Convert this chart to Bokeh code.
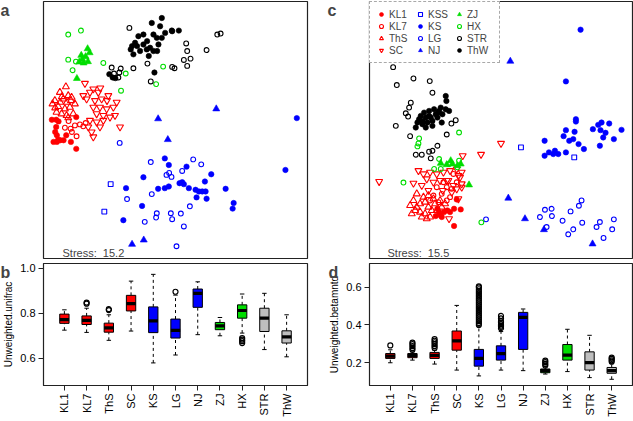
import math
import numpy as np
from bokeh.plotting import figure
from bokeh.models import (Range1d, Label, Legend, LegendItem, FixedTicker,
                          PrintfTickFormatter, GridBox)
from bokeh.embed import file_html
from bokeh.resources import INLINE

FONT = "Liberation Sans"
RED, BLUE, GREEN, BLACK, GRAY = "#ff0000", "#0000ff", "#00dd00", "#000000", "#bebebe"

# ---------------- NMDS groups ----------------
groups = ["KL1", "KL7", "ThS", "SC", "KSS", "KS", "LG", "NJ", "ZJ", "HX", "STR", "ThW"]
g_color = {"KL1": RED, "KL7": RED, "ThS": RED, "SC": RED, "KSS": BLUE, "KS": BLUE,
           "LG": BLUE, "NJ": BLUE, "ZJ": GREEN, "HX": GREEN, "STR": BLACK, "ThW": BLACK}
g_marker = {"KL1": "circle", "KL7": "circle", "ThS": "triangle", "SC": "inverted_triangle",
            "KSS": "square", "KS": "circle", "LG": "circle", "NJ": "triangle",
            "ZJ": "triangle", "HX": "circle", "STR": "circle", "ThW": "circle"}
g_filled = {"KL1": True, "KL7": False, "ThS": False, "SC": False, "KSS": False, "KS": True,
            "LG": False, "NJ": True, "ZJ": True, "HX": False, "STR": False, "ThW": True}

# Panel a: unweighted UniFrac NMDS scores (NMDS1, NMDS2, arbitrary units)
a_KL1 = [(155,358),(168,358),(175,363),(168,380),(165,395),(170,405),(174,418),(160,425),
         (170,425),(190,420),(198,405),(212,425),(228,350),(228,446),(180,420)]
a_KL7 = [(194,382),(211,385),(224,375),(239,372),(229,408),(249,378),(205,362),(256,368),(215,395)]
a_ThS = [(197,258),(179,275),(204,285),(189,295),(214,290),(164,300),(157,310),(174,318),
         (194,325),(209,320),(224,310),(169,335),(184,340),(199,345),(219,340),(204,352),
         (185,288),(200,305),(165,322),(212,300),(180,305)]
a_SC = [(254,248),(279,265),(294,275),(269,275),(249,285),(324,285),(304,295),(259,295),
        (284,300),(349,305),(279,320),(299,320),(319,325),(339,320),(289,340),(309,345),
        (329,350),(344,345),(269,360),(289,365),(309,360),(359,380),(274,395),(279,410),
        (264,380),(299,380),(300,262),(320,300)]
a_KSS = [(331,553),(312,636)]
a_KS = [(888,353),(854,510),(493,475),(505,495),(558,500),(632,523),(429,532),(377,565),
        (473,567),(493,565),(505,560),(537,550),(545,547),(550,553),(565,565),(585,570),
        (595,575),(605,575),(615,575),(613,545),(588,593),(618,597),(675,567),(699,610),
        (696,627),(425,619),(369,662)]
a_LG = [(358,428),(451,486),(578,478),(602,493),(498,525),(513,531),(506,519),(545,513),
        (454,583),(380,598),(568,620),(469,641),(467,654),(511,641),(515,659),(541,642),
        (433,667),(550,681),(528,741)]
a_NJ = [(647,325),(473,355),(502,418),(395,735),(430,722)]
a_ZJ = [(262,143),(268,155),(243,163),(256,167),(237,183),(250,186),(263,182),(246,175),(230,233)]
a_HX = [(204,100),(242,88),(204,176),(227,182),(217,208),(309,186),(376,218),(362,270),
        (488,197),(467,250)]
a_STR = [(387,80),(441,188),(399,202),(451,242),(557,127),(560,150),(618,147),(550,177),
         (570,173),(560,195),(515,198),(522,202),(650,100),(660,97),(334,200),(361,203),
         (357,215),(354,230),(341,218)]
a_ThW = [(454,65),(484,50),(479,75),(514,88),(459,100),(469,110),(429,100),(414,105),
         (404,125),(391,145),(399,160),(419,150),(439,145),(449,140),(429,130),(474,130),
         (484,110),(494,95),(459,150),(515,90),(535,88),(327,220),(337,230),(345,232),
         (462,215),(440,120),(410,135),(445,165),(470,150),(395,135)]

# Panel c: betaMNTD NMDS scores
c_KL1 = [(440,597),(452,627),(432,625),(387,635),(392,645),(377,647),(402,635),(412,630),
         (432,677),(382,625),(395,650),(420,635)]
c_KL7 = [(400,545),(410,560),(430,520),(380,560),(395,580),(420,590),(370,585),(410,600),
         (385,605),(440,545),(360,600),(425,565)]
c_ThS = [(310,600),(320,620),(330,610),(345,605),(355,620),(345,640),(330,635),(315,630),
         (360,650),(375,610),(390,600),(405,610),(340,590),(320,580),(355,585),(300,615),
         (335,650),(350,655),(365,630),(380,630),(305,640),(395,620),(370,595)]
c_SC = [(207,543),(310,548),(458,465),(513,461),(573,428),(325,510),(340,520),(360,515),
        (380,520),(400,515),(420,510),(440,505),(455,515),(450,530),(455,550),(430,555),
        (410,540),(390,540),(370,545),(350,535),(335,555),(355,570),(425,575),(440,565),
        (455,560),(445,595),(415,540),(398,570),(445,525),(417,655)]
c_KSS = [(633,440),(793,470)]
c_KS = [(812,85),(768,241),(798,355),(798,362),(768,388),(794,393),(761,406),(778,420),
        (790,415),(806,430),(822,445),(849,385),(865,372),(875,365),(898,368),(872,388),
        (887,396),(880,410),(935,387),(912,415),(870,435),(704,420),(704,465),(717,455),
        (730,460),(735,450),(745,460),(768,455)]
c_LG = [(528,657),(705,628),(725,625),(690,650),(726,647),(710,680),(758,661),(782,633),
        (807,616),(815,600),(817,667),(790,687),(775,702),(860,680),(870,665),(912,657),
        (907,687),(881,713)]
c_NJ = [(601,180),(595,593),(645,655),(702,688),(848,731)]
c_ZJ = [(392,488),(422,480),(427,490),(442,495),(452,490),(477,553),(410,492)]
c_HX = [(514,666),(447,395),(327,413),(325,428),(322,437),(387,475),(372,505),(392,505),
        (417,490),(447,480),(442,500),(280,546)]
c_STR = [(249,198),(260,252),(310,232),(359,240),(367,275),(302,305),(297,320),(287,337),
         (294,347),(257,375),(437,358),(424,368),(410,401),(300,406),(317,462),(335,462),
         (357,453),(367,450),(382,435),(362,473)]
c_ThW = [(407,285),(409,300),(392,320),(407,325),(387,330),(372,325),(357,330),(342,335),
         (332,345),(327,355),(322,365),(317,380),(337,370),(352,365),(367,360),(382,350),
         (397,340),(417,330),(395,365),(367,375),(347,380),(362,350),(377,340),(347,350),
         (337,360),(357,345),(385,335)]

a_points = [a_KL1, a_KL7, a_ThS, a_SC, a_KSS, a_KS, a_LG, a_NJ, a_ZJ, a_HX, a_STR, a_ThW]
c_points = [c_KL1, c_KL7, c_ThS, c_SC, c_KSS, c_KS, c_LG, c_NJ, c_ZJ, c_HX, c_STR, c_ThW]

# ---------------- Box plot summaries ----------------
cats = ["KL1", "KL7", "ThS", "SC", "KS", "LG", "NJ", "ZJ", "HX", "STR", "ThW"]
box_colors = [RED, RED, RED, RED, BLUE, BLUE, BLUE, GREEN, GREEN, GRAY, GRAY]

b_lo  = [0.725, 0.715, 0.680, 0.721, 0.580, 0.615, 0.705, 0.700, 0.712, 0.639, 0.607]
b_q1  = [0.755, 0.750, 0.716, 0.810, 0.714, 0.690, 0.826, 0.727, 0.778, 0.719, 0.668]
b_med = [0.772, 0.768, 0.735, 0.842, 0.766, 0.724, 0.888, 0.744, 0.812, 0.778, 0.695]
b_q3  = [0.796, 0.788, 0.756, 0.879, 0.828, 0.774, 0.907, 0.759, 0.837, 0.822, 0.722]
b_hi  = [0.815, 0.822, 0.793, 0.942, 0.972, 0.880, 0.939, 0.781, 0.885, 0.888, 0.793]
b_out = {"KL7": [0.847, 0.842], "ThS": [0.818, 0.814], "LG": [0.895],
         "HX": [0.690, 0.683, 0.676, 0.668]}

d_lo  = [0.199, 0.213, 0.192, 0.160, 0.129, 0.160, 0.157, 0.139, 0.152, 0.120, 0.111]
d_q1  = [0.222, 0.226, 0.222, 0.266, 0.181, 0.213, 0.270, 0.146, 0.213, 0.160, 0.143]
d_med = [0.234, 0.238, 0.238, 0.315, 0.222, 0.248, 0.440, 0.157, 0.240, 0.200, 0.157]
d_q3  = [0.248, 0.248, 0.254, 0.368, 0.270, 0.289, 0.467, 0.166, 0.296, 0.257, 0.174]
d_hi  = [0.268, 0.257, 0.266, 0.504, 0.393, 0.365, 0.485, 0.180, 0.377, 0.345, 0.196]
d_out = {"KL1": [0.291],
         "KL7": [0.268, 0.278, 0.288, 0.298, 0.306],
         "ThS": [0.278, 0.288, 0.298, 0.308, 0.316, 0.325],
         "KS": [0.40, 0.41, 0.42, 0.43, 0.44, 0.45, 0.46, 0.47, 0.48, 0.49, 0.50, 0.51,
                0.52, 0.53, 0.54, 0.55, 0.56, 0.57, 0.58, 0.59, 0.60, 0.605],
         "LG": [0.383, 0.390, 0.397, 0.404, 0.412, 0.420, 0.435, 0.448],
         "ZJ": [0.184, 0.193, 0.202, 0.210],
         "ThW": [0.205, 0.212, 0.220, 0.226]}

panel_letters = ["a", "b", "c", "d"]


def base_fig(width, height, left, right, top, bottom, xr, yr, axes=False):
    kw = dict(width=width, height=height, x_range=xr, y_range=yr,
              output_backend="svg", toolbar_location=None,
              min_border_left=left, min_border_right=right,
              min_border_top=top, min_border_bottom=bottom)
    if not axes:
        kw.update(x_axis_location=None, y_axis_location=None)
    p = figure(**kw)
    p.grid.visible = False
    p.outline_line_color = "#222222"
    p.outline_line_width = 1.2
    p.background_fill_color = "white"
    p.border_fill_color = "white"
    return p


def letter_fig(txt, width, height, x, y):
    # transparent overlay, same size as the panel it sits on; its frame fills it
    f = figure(width=width, height=height, frame_width=width, frame_height=height,
               x_range=Range1d(0, 1), y_range=Range1d(0, 1),
               output_backend="svg", toolbar_location=None,
               x_axis_location=None, y_axis_location=None, min_border=0)
    try:
        f.frame_align = False
    except Exception:
        pass
    f.grid.visible = False
    f.outline_line_color = None
    f.background_fill_alpha = 0
    f.border_fill_alpha = 0
    f.add_layout(Label(x=x, y=y, x_units="screen", y_units="screen", text=txt,
                       text_font=FONT, text_font_style="bold", text_font_size="16px",
                       text_baseline="alphabetic"))
    return f


def nmds_fig(points, xr, yr, width, left, right, stress, add_legend, sx):
    p = base_fig(width, 260, left, right, 1, 2, xr, yr)
    items = []
    for g, pts in zip(groups, points):
        xs = [pt[0] for pt in pts]
        ys = [pt[1] for pt in pts]
        m = g_marker[g]
        col = g_color[g]
        if m == "circle":
            size = 5.4 if g_filled[g] else 4.8
        elif m == "square":
            size = 4.8
        else:
            size = 7
        r = p.scatter(xs, ys, marker=m, size=size, line_color=col,
                      fill_color=col if g_filled[g] else None,
                      line_width=0.6 if g_filled[g] else 1.1)
        items.append(LegendItem(label=g, renderers=[r]))
    p.add_layout(Label(x=sx, y=6, x_units="screen", y_units="screen",
                       text="Stress:\u00a0 " + stress, text_font=FONT, text_font_size="11px",
                       text_baseline="alphabetic"))
    if add_legend:
        lg = Legend(items=items, location="top_left", nrows=4, orientation="vertical",
                    margin=0, padding=6, spacing=0, glyph_width=10, glyph_height=12,
                    label_height=12, label_width=26, label_standoff=3,
                    label_text_font=FONT, label_text_font_size="10px",
                    border_line_color="#555555", border_line_dash="dotted",
                    border_line_width=1, background_fill_alpha=1.0)
        p.add_layout(lg)
    return p


def box_fig(lo, q1, med, q3, hi, outl, yr, yticks, ylabel, width, left, right):
    n = len(cats)
    xs = np.arange(1, n + 1)
    p = base_fig(width, 161, left, right, 3, 36,
                 Range1d(0.06, n + 0.94), Range1d(*yr), axes=True)
    hw = 0.21
    p.segment(xs, q3, xs, hi, line_color="black", line_dash="3 3", line_width=1)
    p.segment(xs, lo, xs, q1, line_color="black", line_dash="3 3", line_width=1)
    p.segment(xs - 0.1, hi, xs + 0.1, hi, line_color="black", line_width=1)
    p.segment(xs - 0.1, lo, xs + 0.1, lo, line_color="black", line_width=1)
    p.vbar(x=xs, width=2 * hw, bottom=q1, top=q3, fill_color=box_colors,
           line_color="black", line_width=1)
    p.segment(xs - hw, med, xs + hw, med, line_color="black", line_width=3.2)
    ox, oy = [], []
    for i, c in enumerate(cats):
        for v in outl.get(c, []):
            ox.append(i + 1)
            oy.append(v)
    p.scatter(ox, oy, marker="circle", size=5, line_color="black", fill_color=None,
              line_width=1.2)

    p.xaxis.ticker = FixedTicker(ticks=[int(v) for v in xs])
    p.xaxis.major_label_overrides = {int(i + 1): c for i, c in enumerate(cats)}
    p.xaxis.major_label_orientation = math.pi / 2
    p.yaxis.ticker = FixedTicker(ticks=yticks)
    p.yaxis.formatter = PrintfTickFormatter(format="%.1f")
    p.yaxis.axis_label = ylabel
    for ax in (p.xaxis[0], p.yaxis[0]):
        ax.axis_line_color = "#222222"
        ax.major_tick_line_color = "#222222"
        ax.minor_tick_line_color = None
        ax.major_tick_in = 0
        ax.major_tick_out = 5
        ax.major_label_standoff = 3
        ax.major_label_text_font = FONT
        ax.major_label_text_font_size = "11px"
        ax.major_label_text_color = "black"
    p.yaxis.axis_label_standoff = 3
    p.yaxis.axis_label_text_font = FONT
    p.yaxis.axis_label_text_font_size = "10px"
    p.yaxis.axis_label_text_font_style = "normal"
    p.yaxis.axis_label_text_color = "black"
    return p


pa = nmds_fig(a_points, Range1d(130, 920), Range1d(778, 0), 318, 43, 11, "15.2", False, 19)
pc = nmds_fig(c_points, Range1d(178, 968), Range1d(775, 0), 315, 51, 1, "15.5", True, 18)
pb = box_fig(b_lo, b_q1, b_med, b_q3, b_hi, b_out, (0.48, 1.02), [0.6, 0.8, 1.0],
             "Unweighted.unifrac", 318, 43, 11)
pd_ = box_fig(d_lo, d_q1, d_med, d_q3, d_hi, d_out, (0.078, 0.727), [0.2, 0.4, 0.6],
              "Unweighted.betamntd", 315, 51, 1)

la = letter_fig(panel_letters[0], 318, 260, 0, 250)
lc = letter_fig(panel_letters[2], 315, 260, 9, 250)
lb = letter_fig(panel_letters[1], 318, 161, 0, 149)
ld = letter_fig(panel_letters[3], 315, 161, 10, 149)

layout = GridBox(children=[(pa, 0, 0), (pc, 0, 1), (pb, 1, 0), (pd_, 1, 1),
                           (la, 0, 0), (lc, 0, 1), (lb, 1, 0), (ld, 1, 1)],
                 spacing=0)
open("out.html", "w").write(file_html(layout, INLINE))
